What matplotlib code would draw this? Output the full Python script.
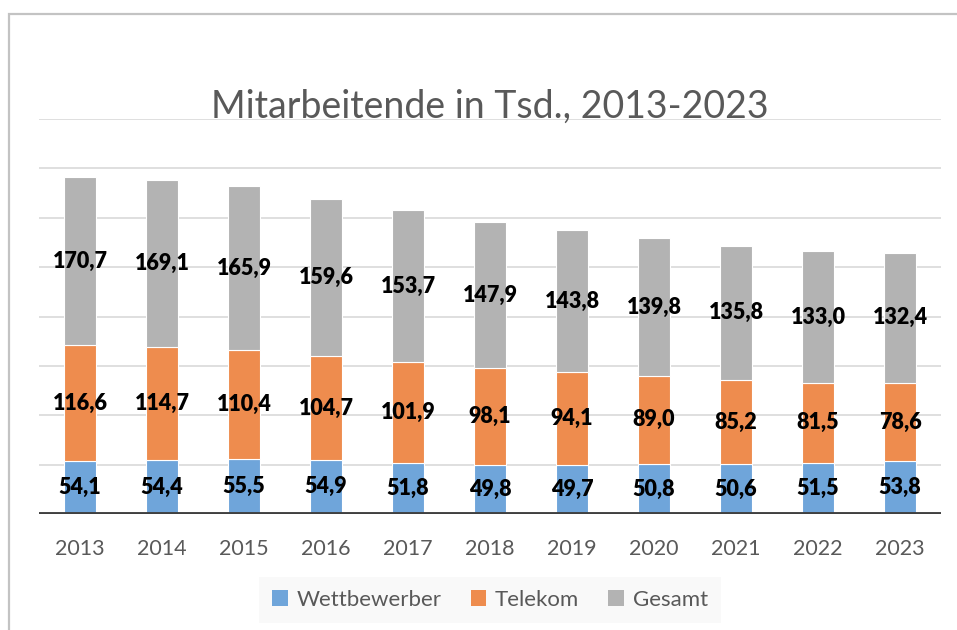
import matplotlib
matplotlib.use("Agg")
import matplotlib.pyplot as plt
from matplotlib.patches import Rectangle, Patch

plt.rcParams['font.family'] = ['Lato', 'DejaVu Sans']

# Daten (Tsd. Mitarbeitende)
jahre = ["2013", "2014", "2015", "2016", "2017", "2018", "2019", "2020", "2021", "2022", "2023"]
wettbewerber = [54.1, 54.4, 55.5, 54.9, 51.8, 49.8, 49.7, 50.8, 50.6, 51.5, 53.8]
telekom = [116.6, 114.7, 110.4, 104.7, 101.9, 98.1, 94.1, 89.0, 85.2, 81.5, 78.6]
gesamt = [170.7, 169.1, 165.9, 159.6, 153.7, 147.9, 143.8, 139.8, 135.8, 133.0, 132.4]

farben = ["#6fa5da", "#ee8c4e", "#b3b3b3"]
namen = ["Wettbewerber", "Telekom", "Gesamt"]

fig = plt.figure(figsize=(9.57, 6.3), dpi=100)
ax = fig.add_axes([39/957, 116/630, 902/957, 395/630])

x = list(range(len(jahre)))
boden = [0.0] * len(jahre)
for werte, farbe in zip([wettbewerber, telekom, gesamt], farben):
    ax.bar(x, werte, bottom=boden, width=0.40, color=farbe, edgecolor="white", linewidth=0.8, zorder=3)
    # Beschriftung in der Mitte des Segments
    for i, v in enumerate(werte):
        ax.text(i, boden[i] + v / 2, f"{v:.1f}".replace(".", ","), ha="center", va="center",
                fontsize=15.5, fontweight="heavy", color="black", zorder=4)
    boden = [b + v for b, v in zip(boden, werte)]

ax.set_xlim(-0.5, len(jahre) - 0.5)
ax.set_ylim(0, 400)
ax.set_yticks([])
for g in range(50, 401, 50):
    ax.axhline(g, color="#d9d9d9", linewidth=1.2, zorder=1)
ax.axhline(0, color="#404040", linewidth=2.8, zorder=5)

ax.set_xticks(x)
ax.set_xticklabels(jahre, fontsize=15.5, color="#595959")
ax.tick_params(axis="x", length=0, pad=18)
for s in ax.spines.values():
    s.set_visible(False)

fig.text(490/957, 1 - 107/630, "Mitarbeitende in Tsd., 2013-2023", ha="center", va="center",
         fontsize=27, color="#595959")

# Legende
handles = [Patch(facecolor=c, edgecolor="none") for c in farben]
leg = fig.legend(handles, namen, loc="center", bbox_to_anchor=(490/957, 1 - 600/630), ncol=3,
                 fontsize=16, frameon=True, facecolor="#f8f8f8", edgecolor="none", fancybox=False,
                 handlelength=0.7, handleheight=0.7, handletextpad=0.4, columnspacing=1.3,
                 borderpad=0.6, borderaxespad=0)
for t in leg.get_texts():
    t.set_color("#595959")

# Rahmen
fig.patches.append(Rectangle((8.5/957, -0.1), 1.2, 1 - 14/630 + 0.1, transform=fig.transFigure,
                             fill=False, edgecolor="#c3c3c3", linewidth=1.6))

fig.savefig("out.png", dpi=100)
